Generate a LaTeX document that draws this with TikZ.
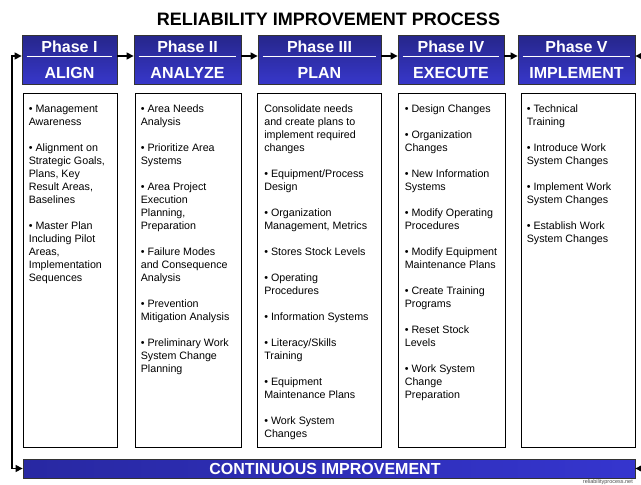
\documentclass[tikz,border=0pt]{standalone}
\usepackage{fontspec}
\setmainfont{Liberation Sans}
\usetikzlibrary{arrows.meta}

\definecolor{navytop}{HTML}{26268A}
\definecolor{navybot}{HTML}{3737CA}
\definecolor{barleft}{HTML}{2828A2}
\definecolor{barright}{HTML}{3535CE}

\tikzset{
  phasebox/.style={draw=black!80, line width=0.8pt, top color=navytop, bottom color=navybot, inner sep=0pt},
  listbox/.style={draw=black, line width=0.8pt, fill=white, inner sep=0pt},
  headtxt/.style={text=white, font=\fontsize{16}{16}\selectfont\bfseries, inner sep=0pt, anchor=base},
  listtxt/.style={font=\fontsize{10.7}{13}\selectfont, align=left, inner sep=0pt, anchor=north west},
  flow/.style={line width=1.3pt, -{Triangle[length=7pt,width=7pt]}},
  divider/.style={white, line width=0.9pt},
}

\begin{document}
\begin{tikzpicture}[x=1pt,y=-1pt]
\useasboundingbox (0,0) rectangle (641,485);

% title
\node[font=\fontsize{18}{18}\selectfont\bfseries, anchor=base, inner sep=0pt] (title) at (328.5,25) {RELIABILITY IMPROVEMENT PROCESS};

% level of the flow arrows and header dividers
\coordinate (mid) at (0,56);

% phase headers and their list boxes
\foreach \n/\l/\r/\cl/\cr/\ph/\nm in {
  1/22/117/23/117/Phase I/ALIGN,
  2/134/241/135/241/Phase II/ANALYZE,
  3/258/381/257/381/Phase III/PLAN,
  4/398/504/398/505/Phase IV/EXECUTE,
  5/518/635/521/635/Phase V/IMPLEMENT} {
  \node[phasebox, minimum width={(\r-\l)*1pt}, minimum height=49pt] (h\n) at ({(\l+\r)/2},59.5) {};
  \draw[divider] ([xshift=5pt]h\n.west |- mid) -- ([xshift=-5pt]h\n.east |- mid);
  \node[headtxt] (p\n) at ({(\l+\r)/2},52) {\ph};
  \node[headtxt] (n\n) at ({(\l+\r)/2},78) {\nm};
  \node[listbox, minimum width={(\cr-\cl)*1pt}, minimum height=354pt] (c\n) at ({(\cl+\cr)/2},270) {};
}

% list contents
\node[listtxt] (t1) at ([shift={(6,12)}]c1.north west) {%
• Management\\Awareness\\[13pt]
• Alignment on\\Strategic Goals,\\Plans, Key\\Result Areas,\\Baselines\\[13pt]
• Master Plan\\Including Pilot\\Areas,\\Implementation\\Sequences};

\node[listtxt] (t2) at ([shift={(6,12)}]c2.north west) {%
• Area Needs\\Analysis\\[13pt]
• Prioritize Area\\Systems\\[13pt]
• Area Project\\Execution\\Planning,\\Preparation\\[13pt]
• Failure Modes\\and Consequence\\Analysis\\[13pt]
• Prevention\\Mitigation Analysis\\[13pt]
• Preliminary Work\\System Change\\Planning};

\node[listtxt] (t3) at ([shift={(7.5,12)}]c3.north west) {%
Consolidate needs\\and create plans to\\implement required\\changes\\[13pt]
• Equipment/Process\\Design\\[13pt]
• Organization\\Management, Metrics\\[13pt]
• Stores Stock Levels\\[13pt]
• Operating\\Procedures\\[13pt]
• Information Systems\\[13pt]
• Literacy/Skills\\Training\\[13pt]
• Equipment\\Maintenance Plans\\[13pt]
• Work System\\Changes};

\node[listtxt] (t4) at ([shift={(7,12)}]c4.north west) {%
• Design Changes\\[13pt]
• Organization\\Changes\\[13pt]
• New Information\\Systems\\[13pt]
• Modify Operating\\Procedures\\[13pt]
• Modify Equipment\\Maintenance Plans\\[13pt]
• Create Training\\Programs\\[13pt]
• Reset Stock\\Levels\\[13pt]
• Work System\\Change\\Preparation};

\node[listtxt] (t5) at ([shift={(6,12)}]c5.north west) {%
• Technical\\Training\\[13pt]
• Introduce Work\\System Changes\\[13pt]
• Implement Work\\System Changes\\[13pt]
• Establish Work\\System Changes};

% continuous improvement bar
\node[draw=black!80, line width=0.8pt, left color=barleft, right color=barright,
      minimum width=612pt, minimum height=19pt, inner sep=0pt] (bar) at (329,468.5) {};
\node[headtxt] (bartxt) at (325,474.5) {CONTINUOUS IMPROVEMENT};

% flow between phases
\foreach \a/\b in {1/2,2/3,3/4,4/5}
  \draw[flow] (h\a.east |- mid) -- (h\b.west |- mid);

% feedback loop on the left
\coordinate (lb) at (12,468.5);
\draw[flow] (lb) -- (bar.west);
\draw[flow] (lb) |- (h1.west |- mid);

% returns entering from the right
\coordinate (rt) at (648,56);
\coordinate (rb) at (648,468.5);
\draw[flow] (rt) -- (h5.east |- mid);
\draw[flow] (rb) -- (bar.east);

% source line
\node[font=\fontsize{5.5}{5.5}\selectfont, text=black!70, anchor=south east, inner sep=0pt] (src) at (633,484.6) {reliabilityprocess.net};
\end{tikzpicture}
\end{document}
